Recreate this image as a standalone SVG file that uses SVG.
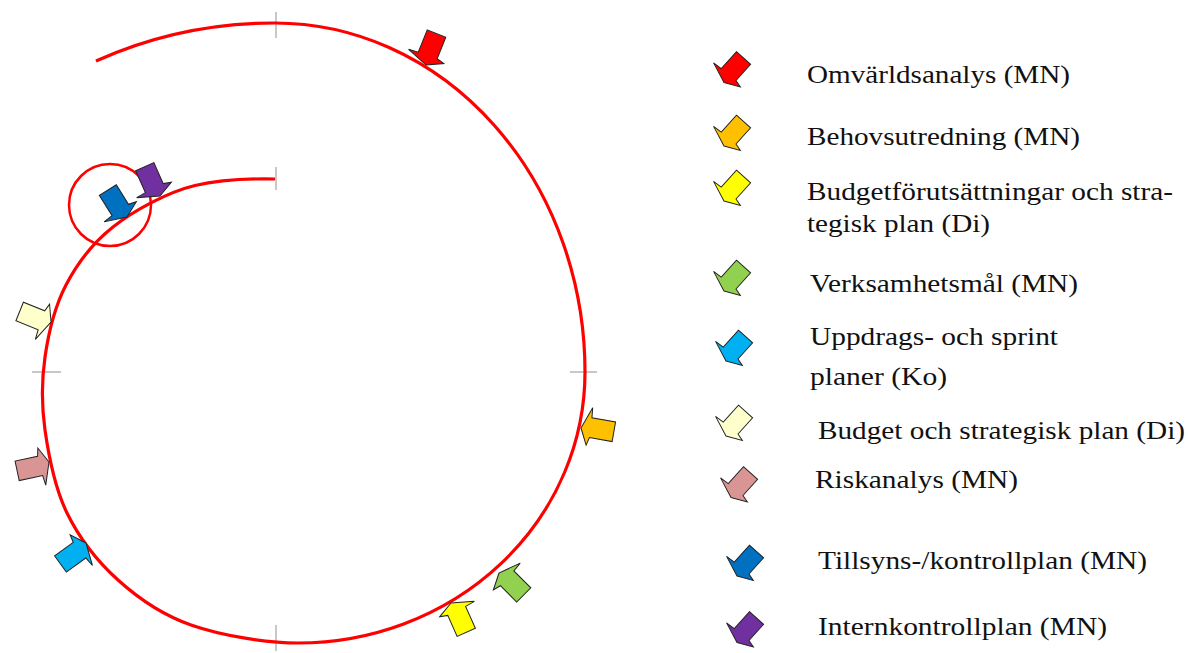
<svg xmlns="http://www.w3.org/2000/svg" xmlns:xlink="http://www.w3.org/1999/xlink" width="1188" height="653" viewBox="0 0 1188 653">
<style>
.tick{stroke:#c8c8c8;stroke-width:2;fill:none}
.spiral{stroke:#ff0000;stroke-width:3.2;fill:none;stroke-linecap:butt}
.ring{stroke:#ff0000;stroke-width:2.5;fill:none}
.arr{stroke:#222;stroke-width:1;stroke-linejoin:miter}
.lbl{font-family:"Liberation Serif","Times New Roman",serif;font-size:26px;fill:#111}
.red{fill:#ff0000}.orange{fill:#ffc000}.yellow{fill:#ffff00}.green{fill:#92d050}.cyan{fill:#00b0f0}
.beige{fill:#ffffcc}.pink{fill:#d99594}.blue{fill:#0070c0}.purple{fill:#7030a0}
</style>
<defs>
<path id="arrow" d="M0,0 L-8,-16 L-10,-8 L-33,-8 L-33,12 L-9,12 L-8,22 Z"/>
</defs>
<rect width="1188" height="653" fill="#ffffff"/>
<g id="axes">
<line class="tick" x1="276" y1="12" x2="276" y2="38"/>
<line class="tick" x1="276" y1="167" x2="276" y2="190"/>
<line class="tick" x1="32" y1="372" x2="61" y2="372"/>
<line class="tick" x1="570" y1="372" x2="597" y2="372"/>
<line class="tick" x1="276" y1="625" x2="276" y2="651"/>
</g>
<g id="connectors">
<path id="spiral" class="spiral" d="M96,61 A394,349 0 0 1 275,23 A310,349 0 0 1 585,372 A287,271 0 0 1 298,643 C266,643 221,635.5 191,625 C161,614.5 138.7,598.7 118,580 C97.3,561.3 79.2,538 67,513 C54.8,488 48.7,456 45,430 C41.3,404 41.5,381.2 45,357 C48.5,332.8 54.7,306.7 66,285 C77.3,263.3 91.8,243.7 113,227 C134.2,210.3 168,192 195,185.5 C218,180 250,178.5 275,179"/>
</g>
<g id="focus-circle"><circle class="ring" cx="110" cy="205" r="41"/></g>
<g id="spiral-markers">
<g id="m-omvarld"><use xlink:href="#arrow" class="arr red" transform="translate(426,65) rotate(112)"/></g>
<g id="m-behov"><use xlink:href="#arrow" class="arr orange" transform="translate(581,428) rotate(190)"/></g>
<g id="m-budgetforut"><use xlink:href="#arrow" class="arr yellow" transform="translate(451,603) rotate(246)"/></g>
<g id="m-verksamhet"><use xlink:href="#arrow" class="arr green" transform="translate(499,573) rotate(225)"/></g>
<g id="m-uppdrag"><use xlink:href="#arrow" class="arr cyan" transform="translate(86,543) rotate(324)"/></g>
<g id="m-budget"><use xlink:href="#arrow" class="arr beige" transform="translate(51,322) rotate(22)"/></g>
<g id="m-risk"><use xlink:href="#arrow" class="arr pink" transform="translate(49,462) rotate(-12)"/></g>
<g id="m-tillsyn"><use xlink:href="#arrow" class="arr blue" transform="translate(127,217) rotate(58)"/></g>
<g id="m-intern"><use xlink:href="#arrow" class="arr purple" transform="translate(160,196) rotate(66)"/></g>
</g>
<g id="legend">
<g id="l-omvarld"><use xlink:href="#arrow" class="arr red" transform="translate(724,82.5) rotate(132) scale(0.95)"/><text class="lbl" x="807" y="83" textLength="263" lengthAdjust="spacingAndGlyphs">Omvärldsanalys (MN)</text></g>
<g id="l-behov"><use xlink:href="#arrow" class="arr orange" transform="translate(724,146) rotate(132) scale(0.95)"/><text class="lbl" x="807" y="145" textLength="273" lengthAdjust="spacingAndGlyphs">Behovsutredning (MN)</text></g>
<g id="l-budgetforut"><use xlink:href="#arrow" class="arr yellow" transform="translate(724,201) rotate(132) scale(0.95)"/><text class="lbl" x="807" y="200" textLength="366" lengthAdjust="spacingAndGlyphs">Budgetförutsättningar och stra-</text><text class="lbl" x="807" y="232" textLength="183" lengthAdjust="spacingAndGlyphs">tegisk plan (Di)</text></g>
<g id="l-verksamhet"><use xlink:href="#arrow" class="arr green" transform="translate(724,291) rotate(132) scale(0.95)"/><text class="lbl" x="810" y="292" textLength="268" lengthAdjust="spacingAndGlyphs">Verksamhetsmål (MN)</text></g>
<g id="l-uppdrag"><use xlink:href="#arrow" class="arr cyan" transform="translate(726,361) rotate(132) scale(0.95)"/><text class="lbl" x="810" y="345" textLength="248" lengthAdjust="spacingAndGlyphs">Uppdrags- och sprint</text><text class="lbl" x="810" y="385" textLength="137" lengthAdjust="spacingAndGlyphs">planer (Ko)</text></g>
<g id="l-budget"><use xlink:href="#arrow" class="arr beige" transform="translate(726,436) rotate(132) scale(0.95)"/><text class="lbl" x="818" y="439" textLength="367" lengthAdjust="spacingAndGlyphs">Budget och strategisk plan (Di)</text></g>
<g id="l-risk"><use xlink:href="#arrow" class="arr pink" transform="translate(731,497.5) rotate(132) scale(0.95)"/><text class="lbl" x="815" y="488" textLength="203" lengthAdjust="spacingAndGlyphs">Riskanalys (MN)</text></g>
<g id="l-tillsyn"><use xlink:href="#arrow" class="arr blue" transform="translate(737,576) rotate(132) scale(0.95)"/><text class="lbl" x="818" y="569" textLength="329" lengthAdjust="spacingAndGlyphs">Tillsyns-/kontrollplan (MN)</text></g>
<g id="l-intern"><use xlink:href="#arrow" class="arr purple" transform="translate(737,642.5) rotate(132) scale(0.95)"/><text class="lbl" x="818" y="635" textLength="289" lengthAdjust="spacingAndGlyphs">Internkontrollplan (MN)</text></g>
</g>
</svg>
